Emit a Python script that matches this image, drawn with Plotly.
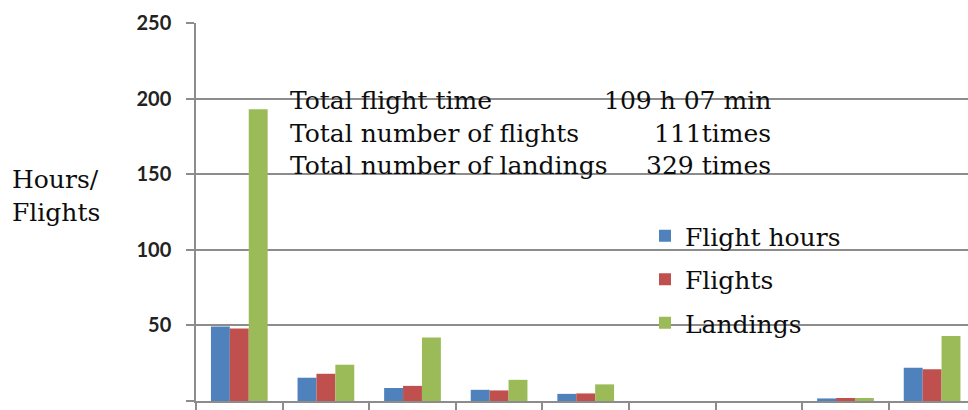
import plotly.graph_objects as go

# Nine reporting periods (labels are not shown on the axis)
periods = [1, 2, 3, 4, 5, 6, 7, 8, 9]
flight_hours = [49.3, 15.4, 8.6, 7.4, 4.7, 0, 0, 1.7, 22.0]
flights = [48, 18, 10, 7, 5, 0, 0, 2, 21]
landings = [193, 24, 42, 14, 11, 0, 0, 2, 43]

series_names = ["Flight hours", "Flights", "Landings"]
series_colors = ["#4F81BD", "#C0504D", "#9BBB59"]

summary_labels = ["Total flight time", "Total number of flights", "Total number of landings"]
summary_values = ["109 h 07 min", "111times", "329 times"]

y_ticks = [0, 50, 100, 150, 200, 250]

W, H = 968, 410
ML, MR, MT, MB = 196, 0, 23, 9
PW, PH = W - ML - MR, H - MT - MB
CAT_PX = 86.6          # width of one period slot in pixels
n = len(periods)
x_max = -0.5 + PW / CAT_PX


def px(x):
    return (x - ML) / PW


def py(y):
    return (H - MB - y) / PH


SERIF = "DejaVu Serif"
GRID = "#8C8C8C"
TXT = "#0d0d0d"

fig = go.Figure()
for i, (name, vals, col) in enumerate(zip(series_names, [flight_hours, flights, landings], series_colors)):
    fig.add_trace(go.Bar(
        x=[p - 1 for p in periods], y=vals, name=name,
        marker=dict(color=col, line=dict(width=0)),
        legendgroup=f"g{i}",
    ))

# white panels behind the summary text and the legend
fig.add_shape(type="rect", xref="paper", yref="paper", layer="between",
              x0=px(290), x1=px(771), y0=py(183), y1=py(86),
              fillcolor="white", line=dict(width=0))
fig.add_shape(type="rect", xref="paper", yref="paper", layer="between",
              x0=px(613), x1=px(838), y0=py(342), y1=py(220),
              fillcolor="white", line=dict(width=0))

line_y = [100, 133, 166]
for lab, val, yy in zip(summary_labels, summary_values, line_y):
    fig.add_annotation(text=lab, xref="paper", yref="paper", x=px(288), y=py(yy),
                       xanchor="left", yanchor="middle", showarrow=False,
                       font=dict(family=SERIF, size=25, color=TXT))
    fig.add_annotation(text=val, xref="paper", yref="paper", x=px(773), y=py(yy),
                       xanchor="right", yanchor="middle", showarrow=False,
                       font=dict(family=SERIF, size=25, color=TXT))

fig.add_annotation(text="Hours/<br>Flights", xref="paper", yref="paper",
                   x=px(10), y=py(196), xanchor="left", yanchor="middle",
                   align="left", showarrow=False,
                   font=dict(family=SERIF, size=25, color=TXT))

fig.update_layout(
    width=W, height=H,
    margin=dict(l=ML, r=MR, t=MT, b=MB),
    paper_bgcolor="white", plot_bgcolor="white",
    barmode="group", bargap=0.345, bargroupgap=0,
    showlegend=True,
    legend=dict(x=px(645), y=py(213), xanchor="left", yanchor="top",
                bgcolor="rgba(0,0,0,0)", tracegroupgap=8,
                font=dict(family=SERIF, size=25, color=TXT)),
    xaxis=dict(range=[-0.5, x_max],
               tickvals=[k - 0.5 for k in range(n + 1)], ticktext=[""] * (n + 1),
               ticks="outside", ticklen=7, tickcolor=GRID, tickwidth=1.5,
               showline=True, linecolor=GRID, linewidth=1.5,
               showgrid=False, zeroline=False, fixedrange=True),
    yaxis=dict(range=[0, 250], tickvals=y_ticks,
               ticks="outside", ticklen=8, tickcolor=GRID, tickwidth=1.5,
               showline=True, linecolor=GRID, linewidth=1.5,
               showgrid=True, gridcolor=GRID, gridwidth=1.5,
               zeroline=False, ticklabelstandoff=11,
               tickfont=dict(family="Lato", size=20, color="#222", weight="bold")),
)

fig.write_html("out.html")
